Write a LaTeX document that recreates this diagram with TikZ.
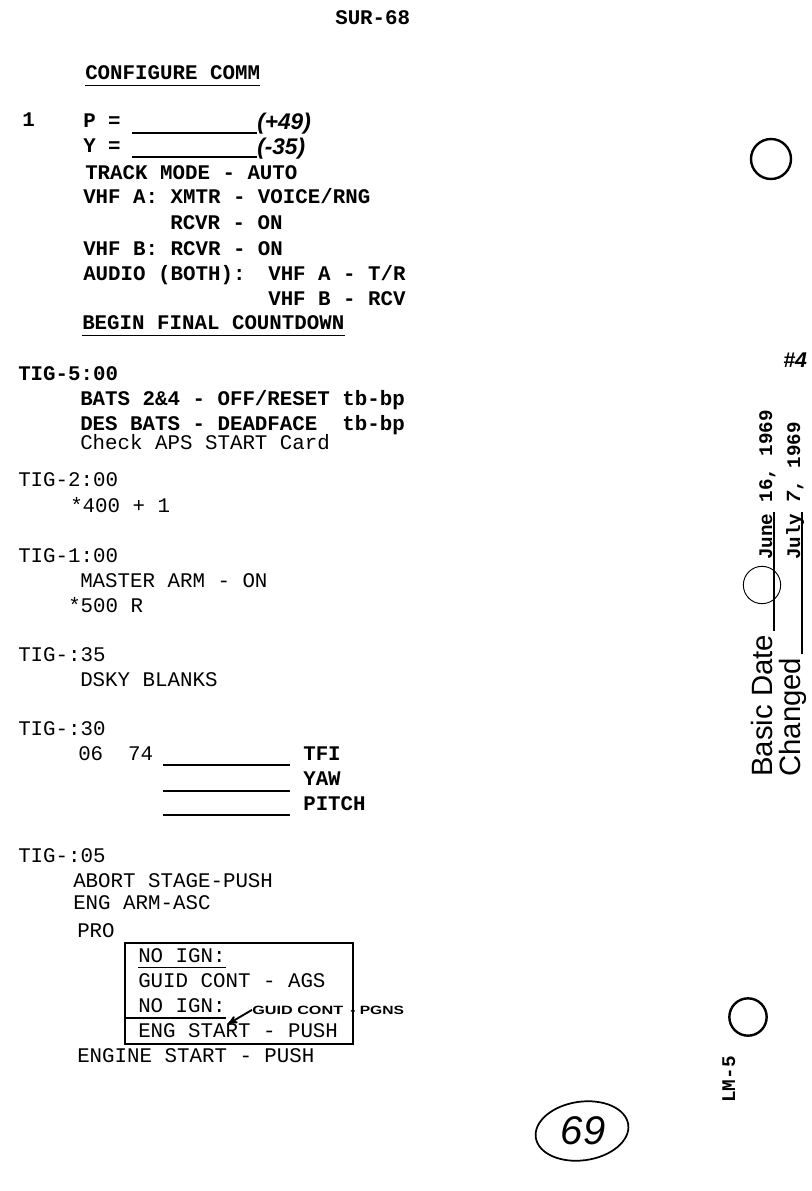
\documentclass[tikz,border=0pt]{standalone}
\usepackage{fontspec}
\setmonofont{Liberation Mono}
\setsansfont{Liberation Sans}
\usetikzlibrary{arrows}

\newcommand{\tw}{\ttfamily\fontsize{15.6}{18}\selectfont}
\newcommand{\twb}{\ttfamily\bfseries\fontsize{15.6}{18}\selectfont}
\newcommand{\hw}{\sffamily\bfseries\itshape}

\begin{document}
\begin{tikzpicture}[x=0.75pt,y=-0.75pt,
		txt/.style={anchor=base west,inner sep=0pt,font=\tw},
		btxt/.style={anchor=base west,inner sep=0pt,font=\twb},
		hand/.style={anchor=base west,inner sep=0pt,font=\hw\fontsize{17}{19}\selectfont},
		pen/.style={anchor=base west,inner sep=0pt,font=\sffamily\bfseries\fontsize{9}{10}\selectfont},
		side/.style={anchor=base west,inner sep=0pt,rotate=90},
		stamp/.style={side,font=\sffamily\fontsize{22}{24}\selectfont},
		typed/.style={side,font=\ttfamily\bfseries\fontsize{14.4}{16}\selectfont},
		hole/.style={line width=1.8pt},
		ul/.style={line width=1.1pt},
		blank/.style={line width=1pt}]
		\useasboundingbox (0,0) rectangle (811,1191);
		%
		\node[btxt] (sur) at (335,25) {SUR-68};
		\node[btxt] (cfg) at (85,80) {CONFIGURE COMM};
		\draw[ul] ([yshift=-4pt]cfg.base west) -- ([yshift=-4pt]cfg.base east);
		% step 1
		\node[btxt] (one) at (22,127) {1};
		\node[btxt] (pp) at (83,128) {P =};
		\node[btxt] (yy) at (83,153) {Y =};
		\draw[blank] (132,133) -- (257,133);
		\draw[blank] (132,157) -- (257,157);
		\node[hand] (plus49) at (257,130) {(+49)};
		\node[hand] (minus35) at (257,155) {(-35)};
		\node[btxt] (trk) at (85,180) {TRACK MODE - AUTO};
		\node[btxt] (vhfa) at (83,204) {VHF A: XMTR - VOICE/RNG};
		\node[btxt] (rcvra) at (170,229) {RCVR - ON};
		\node[btxt] (vhfb) at (83,255) {VHF B: RCVR - ON};
		\node[btxt] (aud) at (83,280) {AUDIO (BOTH):};
		\node[btxt] (auda) at (268,280) {VHF A - T/R};
		\node[btxt] (audb) at (268,305) {VHF B - RCV};
		\node[btxt] (bfc) at (82,329) {BEGIN FINAL COUNTDOWN};
		\draw[ul] ([yshift=-5pt]bfc.base west) -- ([yshift=-5pt]bfc.base east);
		% countdown
		\node[btxt] (t500) at (18,380) {TIG-5:00};
		\node[btxt] (bats) at (80,405) {BATS 2\&4 - OFF/RESET tb-bp};
		\node[btxt] (des) at (80,430) {DES BATS - DEADFACE~~tb-bp};
		\node[txt] (chk) at (80,449) {Check APS START Card};
		\node[txt] (t200) at (18,486) {TIG-2:00};
		\node[txt] (k400) at (70,512) {*400 + 1};
		\node[txt] (t100) at (18,562) {TIG-1:00};
		\node[txt] (marm) at (80,587) {MASTER ARM - ON};
		\node[txt] (k500) at (68,612) {*500 R};
		\node[txt] (t035) at (18,661) {TIG-:35};
		\node[txt] (dsky) at (80,686) {DSKY BLANKS};
		\node[txt] (t030) at (18,735) {TIG-:30};
		\node[txt] (n0674) at (78,760) {06~~74};
		\draw[blank] (163,765) -- (290,765);
		\draw[blank] (163,791) -- (290,791);
		\draw[blank] (163,815) -- (290,815);
		\node[btxt] (tfi) at (303,760) {TFI};
		\node[btxt] (yaw) at (303,785) {YAW};
		\node[btxt] (pitch) at (303,810) {PITCH};
		\node[txt] (t005) at (18,862) {TIG-:05};
		\node[txt] (abort) at (73,887) {ABORT STAGE-PUSH};
		\node[txt] (engarm) at (73,909) {ENG ARM-ASC};
		\node[txt] (pro) at (77,937) {PRO};
		% boxed card
		\draw[line width=1.1pt] (125,943) rectangle (353,1044);
		\node[txt] (noign1) at (138,962) {NO IGN:};
		\draw[ul] ([yshift=-4pt]noign1.base west) -- ([yshift=-4pt]noign1.base east);
		\node[txt] (gcags) at (138,987) {GUID CONT - AGS};
		\node[txt] (noign2) at (138,1012) {NO IGN:};
		\draw[ul] ([xshift=-9pt,yshift=-4.5pt]noign2.base west) -- ([yshift=-4.5pt]noign2.base east);
		\node[txt] (engst) at (138,1037) {ENG START - PUSH};
		\node[txt] (engine) at (77,1062) {ENGINE START - PUSH};
		% pen note
		\node[pen] (guidh) at (252,1014) {\scalebox{1.35}[1]{GUID CONT}};
		\node[pen] (pgns) at (350,1014) {\scalebox{1.3}[1]{- PGNS}};
		\coordinate (tip) at (228,1024);
		\path[->,>=stealth',line width=1.4pt]
		(guidh.west) edge (tip);
		% margin
		\draw[hole] (771,159) circle[radius=15pt];
		\node[hand,font=\hw\fontsize{16}{18}\selectfont] (hash4) at (783,367) {\#4};
		\node[stamp] (basic) at (772,777) {Basic Date};
		\draw[ul] (774,631) -- (774,512);
		\node[typed] (june) at (772,560) {June 16, 1969};
		\node[stamp] (changed) at (800,777) {Changed};
		\draw[ul] (802,654) -- (802,512);
		\node[typed] (july) at (800,560) {July {\hw 7}, 1969};
		\draw[line width=0.7pt] (762,585) circle[radius=14pt];
		\draw[hole] (748,1017) circle[radius=14pt];
		\node[side,font=\ttfamily\bfseries\fontsize{14.5}{16}\selectfont] (lm) at (735,1103) {LM-5};
		% page number
		\node[font=\sffamily\itshape\fontsize{30}{32}\selectfont] (pnum) at (583,1131) {69};
		\draw[line width=1.3pt,rotate around={8:(582,1131)}] (582,1131) ellipse[x radius=35pt,y radius=22pt];
	\end{tikzpicture}
\end{document}
